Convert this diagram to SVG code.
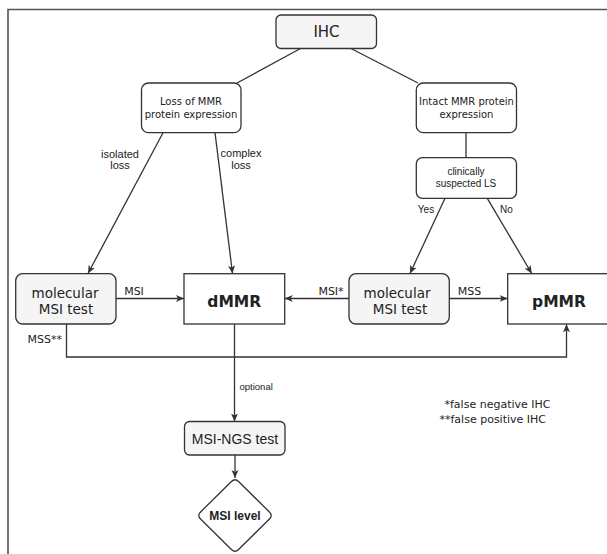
<svg xmlns="http://www.w3.org/2000/svg" width="607" height="554" viewBox="0 0 607 554">
<style>
.box{stroke:#333;stroke-width:1.3;}
.g{fill:#f5f5f5;}
.w{fill:#fff;}
.dv{font-family:"DejaVu Sans",Verdana,sans-serif;fill:#222;}
.ar{font-family:"Liberation Sans",Arial,sans-serif;fill:#222;}
.c{text-anchor:middle;}
.e{stroke:#333;stroke-width:1.3;fill:none;}
.a{marker-end:url(#arr);}
</style>
<defs>
<marker id="arr" markerWidth="9" markerHeight="8" refX="8" refY="4" orient="auto" markerUnits="userSpaceOnUse">
<path d="M0,0.5 L8,4 L0,7.5 L2,4 Z" fill="#333"/>
</marker>
</defs>
<rect width="607" height="554" fill="#fff"/>
<path d="M8,554 V9.5 H607" fill="none" stroke="#555" stroke-width="1.6"/>

<g id="connectors">
<line class="e" x1="300.5" y1="48.5" x2="237" y2="83"/>
<line class="e" x1="351" y1="48.5" x2="418" y2="83"/>
<line class="e" x1="466" y1="132.7" x2="466" y2="157.7"/>
<line class="e a" x1="163" y1="132.7" x2="88" y2="273.5"/>
<line class="e a" x1="215" y1="132.7" x2="232.5" y2="273.5"/>
<line class="e a" x1="445" y1="198.3" x2="410" y2="273.5"/>
<line class="e a" x1="487.3" y1="198.3" x2="531.7" y2="273.5"/>
<line class="e a" x1="116" y1="298.5" x2="184" y2="298.5"/>
<line class="e a" x1="349" y1="298.5" x2="284.7" y2="298.5"/>
<line class="e a" x1="449.3" y1="298.5" x2="507.7" y2="298.5"/>
<path class="e a" d="M66.5,324 V357 H566.5 V324.2"/>
<line class="e a" x1="234.5" y1="324" x2="234.5" y2="421.5"/>
<line class="e a" x1="235" y1="455" x2="235" y2="478"/>
<text class="ar" x="120" y="157.5" font-size="11" text-anchor="middle">isolated</text>
<text class="ar" x="120" y="169" font-size="11" text-anchor="middle">loss</text>
<text class="ar" x="241" y="157" font-size="11" text-anchor="middle">complex</text>
<text class="ar" x="241" y="168.5" font-size="11" text-anchor="middle">loss</text>
<text class="ar" x="426" y="213" font-size="10" text-anchor="middle">Yes</text>
<text class="ar" x="506.5" y="213" font-size="10" text-anchor="middle">No</text>
<text class="dv" x="134" y="295" font-size="11" text-anchor="middle">MSI</text>
<text class="dv" x="331" y="295" font-size="11" text-anchor="middle">MSI*</text>
<text class="dv" x="469.5" y="295" font-size="11" text-anchor="middle">MSS</text>
<text class="dv" x="62" y="343" font-size="11" text-anchor="end">MSS**</text>
<text class="ar" x="239.5" y="390" font-size="9.5">optional</text>
</g>

<g id="ihc">
<rect class="box g" x="276" y="15" width="100.5" height="33.5" rx="5"/>
<text class="dv c" x="326.5" y="36.8" font-size="15">IHC</text>
</g>

<g id="loss">
<rect class="box w" x="141.5" y="83" width="99.5" height="49.7" rx="7"/>
<text class="dv c" x="191" y="105.3" font-size="10">Loss of MMR</text>
<text class="dv c" x="191" y="117.5" font-size="10">protein expression</text>
</g>

<g id="intact">
<rect class="box w" x="416.3" y="83" width="100.2" height="49.7" rx="7"/>
<text class="dv c" x="466.5" y="105.3" font-size="10">Intact MMR protein</text>
<text class="dv c" x="466.5" y="117.5" font-size="10">expression</text>
</g>

<g id="suspected">
<rect class="box w" x="416.3" y="157.7" width="100.2" height="40.6" rx="6"/>
<text class="ar c" x="466" y="175" font-size="10">clinically</text>
<text class="ar c" x="466" y="187" font-size="10">suspected LS</text>
</g>

<g id="msi-test-left">
<rect class="box g" x="15.7" y="273.7" width="100.3" height="50.3" rx="7"/>
<text class="dv c" x="65" y="298.3" font-size="13.5">molecular</text>
<text class="dv c" x="66" y="314" font-size="13.5">MSI test</text>
</g>

<g id="dmmr">
<rect class="box w" x="184" y="273.7" width="100.7" height="50.3"/>
<text class="dv c" x="234.3" y="306.5" font-size="15.5" font-weight="bold">dMMR</text>
</g>

<g id="msi-test-right">
<rect class="box g" x="349" y="273.7" width="100.3" height="50.3" rx="7"/>
<text class="dv c" x="397" y="298.3" font-size="13.5">molecular</text>
<text class="dv c" x="400" y="314" font-size="13.5">MSI test</text>
</g>

<g id="pmmr">
<rect class="box w" x="507.7" y="273.7" width="100.7" height="50.3"/>
<text class="dv c" x="559" y="306.5" font-size="15.5" font-weight="bold">pMMR</text>
</g>

<g id="msi-ngs">
<rect class="box g" x="184.5" y="421.5" width="100.5" height="33.5" rx="5"/>
<text class="ar c" x="235" y="444" font-size="14">MSI-NGS test</text>
</g>

<g id="msi-level">
<path class="box w" d="M238.56,481.51 L269.44,511.99 Q273,515.5 269.44,519.01 L238.56,549.49 Q235,553 231.44,549.49 L200.56,519.01 Q197,515.5 200.56,511.99 L231.44,481.51 Q235,478 238.56,481.51 Z"/>
<text class="ar c" x="235" y="520" font-size="12" font-weight="bold">MSI level</text>
</g>

<g id="notes">
<text class="dv" x="444.5" y="408" font-size="11">*false negative IHC</text>
<text class="dv" x="439.5" y="422.5" font-size="11">**false positive IHC</text>
</g>
</svg>
